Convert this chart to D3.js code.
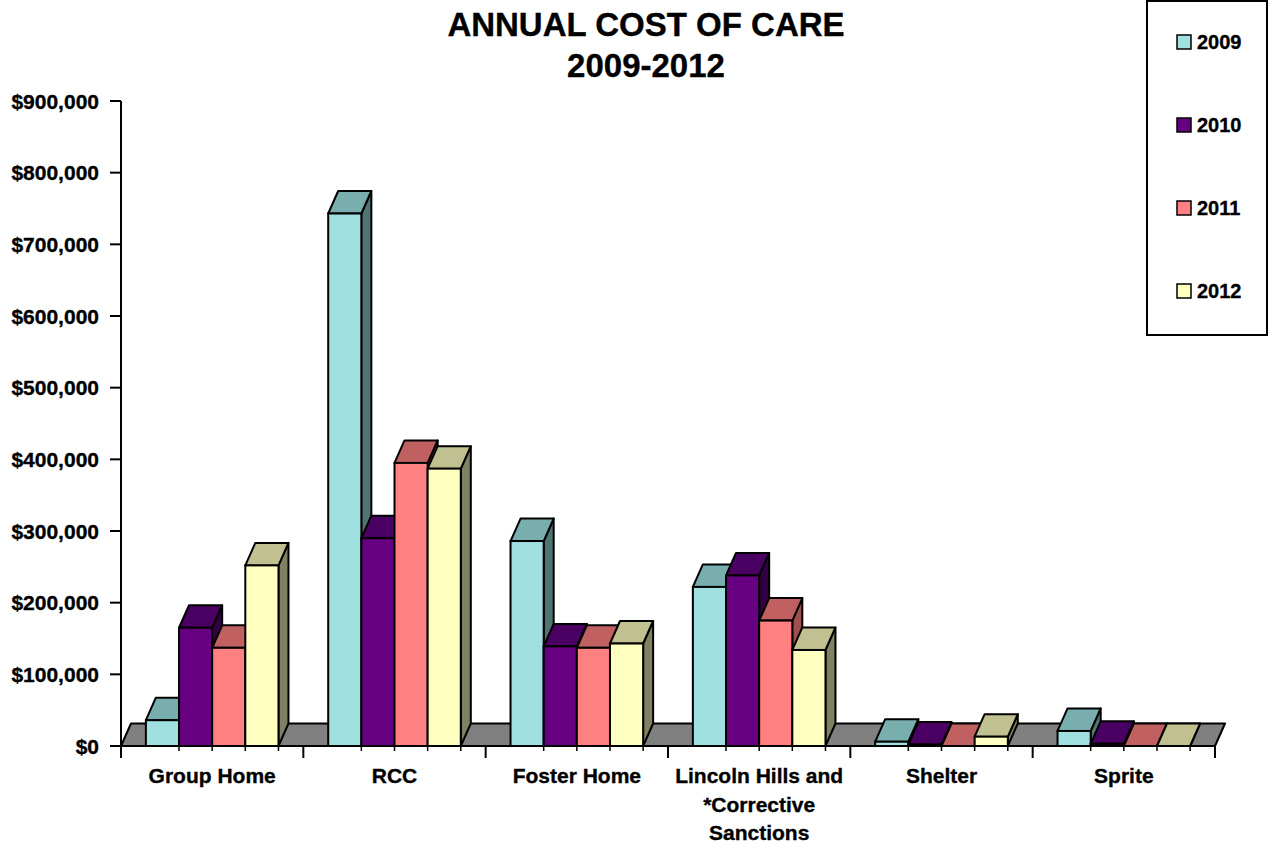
<!DOCTYPE html>
<html>
<head>
<meta charset="utf-8">
<script src="https://cdn.jsdelivr.net/npm/d3@7/dist/d3.min.js"></script>
<style>
  html, body { margin: 0; padding: 0; background: #fff; }
  svg { display: block; }
  text { font-family: Arial, "Liberation Sans", sans-serif; font-weight: bold; fill: #000; stroke: #000; stroke-width: 0.35px; }
</style>
</head>
<body>
<svg id="chart" width="1269" height="843"></svg>
<script>
// ---- data ----
const categories = [
  ["Group Home"],
  ["RCC"],
  ["Foster Home"],
  ["Lincoln Hills and", "*Corrective", "Sanctions"],
  ["Shelter"],
  ["Sprite"]
];
const years = ["2009", "2010", "2011", "2012"];
const values2009 = [36000, 743000, 286000, 222000, 6000, 21000];
const values2010 = [165000, 290000, 139000, 238000, 2000, 3000];
const values2011 = [137000, 395000, 137000, 175000, 0, 0];
const values2012 = [252000, 387000, 143000, 134000, 13000, 0];
const yTicks = [0, 100000, 200000, 300000, 400000, 500000, 600000, 700000, 800000, 900000];
const titleLines = ["ANNUAL COST OF CARE", "2009-2012"];

const seriesValues = [values2009, values2010, values2011, values2012];
const faceColors = {
  "2009": { front: "#A0E0E0", top: "#78AEAE", side: "#507472" },
  "2010": { front: "#660080", top: "#4A0062", side: "#330044" },
  "2011": { front: "#FF8080", top: "#C06060", side: "#A04E4E" },
  "2012": { front: "#FFFFC0", top: "#C0C090", side: "#808062" }
};

const svg = d3.select("#chart");
const pLeft = 121, pRight = 1215, pBottom = 746, pTop = 101;
const DX = 10, DY = 22.5;

const y = d3.scaleLinear().domain([0, 900000]).range([pBottom, pTop]);
const x0 = d3.scaleBand().domain(d3.range(categories.length)).range([pLeft, pRight]).padding(0);
const x1 = d3.scaleBand().domain(years).range([0, x0.bandwidth()]).paddingInner(0).paddingOuter(0.75);

// ---- title ----
svg.append("g").selectAll("text").data(titleLines).join("text")
  .attr("x", 646).attr("y", (d, i) => 36 + i * 41)
  .attr("text-anchor", "middle").style("font-size", "33px").text(d => d);

// ---- floor ----
svg.append("polygon")
  .attr("points", [[pLeft, pBottom], [pRight, pBottom], [pRight + DX, pBottom - DY], [pLeft + DX, pBottom - DY]].map(p => p.join(",")).join(" "))
  .attr("fill", "#808080").attr("stroke", "#000").attr("stroke-width", 2).attr("stroke-linejoin", "round");

// ---- bars ----
const barsG = svg.append("g");
categories.forEach((cat, ci) => {
  years.forEach((yr, si) => {
    const v = seriesValues[si][ci];
    const xa = x0(ci) + x1(yr);
    const w = x1.bandwidth();
    const yv = y(v);
    const c = faceColors[yr];
    const g = barsG.append("g");
    const sw = 2;
    g.append("polygon")
      .attr("points", [[xa + w, yv], [xa + w + DX, yv - DY], [xa + w + DX, pBottom - DY], [xa + w, pBottom]].map(p => p.join(",")).join(" "))
      .attr("fill", c.side).attr("stroke", "#000").attr("stroke-width", sw).attr("stroke-linejoin", "round");
    g.append("polygon")
      .attr("points", [[xa, yv], [xa + DX, yv - DY], [xa + w + DX, yv - DY], [xa + w, yv]].map(p => p.join(",")).join(" "))
      .attr("fill", c.top).attr("stroke", "#000").attr("stroke-width", sw).attr("stroke-linejoin", "round");
    if (pBottom - yv > 0.5) {
      g.append("rect")
        .attr("x", xa).attr("y", yv).attr("width", w).attr("height", pBottom - yv)
        .attr("fill", c.front).attr("stroke", "#000").attr("stroke-width", sw);
    }
    g.append("line").attr("x1", xa + w).attr("x2", xa + w).attr("y1", pBottom).attr("y2", pBottom + 5)
      .attr("stroke", "#000").attr("stroke-width", 1.5);
  });
});

// ---- y axis ----
const yAxis = svg.append("g");
yAxis.append("line").attr("x1", pLeft).attr("x2", pLeft).attr("y1", pTop).attr("y2", pBottom)
  .attr("stroke", "#000").attr("stroke-width", 2);
yAxis.selectAll(".yt").data(yTicks).join("line").attr("class", "yt")
  .attr("x1", pLeft - 11).attr("x2", pLeft).attr("y1", d => y(d)).attr("y2", d => y(d))
  .attr("stroke", "#000").attr("stroke-width", 2);
yAxis.selectAll(".yl").data(yTicks).join("text").attr("class", "yl")
  .attr("x", 99).attr("y", d => y(d)).attr("dy", "0.36em")
  .attr("text-anchor", "end").style("font-size", "21px")
  .text(d => "$" + d3.format(",")(d));

// ---- x axis ----
const xAxis = svg.append("g");
xAxis.append("line").attr("x1", pLeft).attr("x2", pRight).attr("y1", pBottom).attr("y2", pBottom)
  .attr("stroke", "#000").attr("stroke-width", 2);
const bounds = d3.range(categories.length + 1).map(i => pLeft + i * x0.step());
xAxis.selectAll(".xt").data(bounds).join("line").attr("class", "xt")
  .attr("x1", d => d).attr("x2", d => d).attr("y1", pBottom).attr("y2", pBottom + 12)
  .attr("stroke", "#000").attr("stroke-width", 2);
const labels = xAxis.selectAll(".xl").data(categories).join("text").attr("class", "xl")
  .attr("text-anchor", "middle").style("font-size", "21px");
labels.each(function (lines, i) {
  d3.select(this).selectAll("tspan").data(lines).join("tspan")
    .attr("x", x0(i) + x0.bandwidth() / 2)
    .attr("y", (d, j) => 783 + j * 28.5)
    .text(d => d);
});

// ---- legend ----
const legend = svg.append("g");
legend.append("rect").attr("x", 1147).attr("y", 1).attr("width", 120).attr("height", 334)
  .attr("fill", "#fff").attr("stroke", "#000").attr("stroke-width", 2);
const le = legend.selectAll(".le").data(years).join("g").attr("class", "le")
  .attr("transform", (d, i) => `translate(0, ${i * 83})`);
le.append("rect").attr("x", 1177).attr("y", 35).attr("width", 14).attr("height", 14)
  .attr("fill", d => faceColors[d].front).attr("stroke", "#000").attr("stroke-width", 1.5);
le.append("text").attr("x", 1197).attr("y", 49).style("font-size", "20px").text(d => d);
</script>
</body>
</html>
